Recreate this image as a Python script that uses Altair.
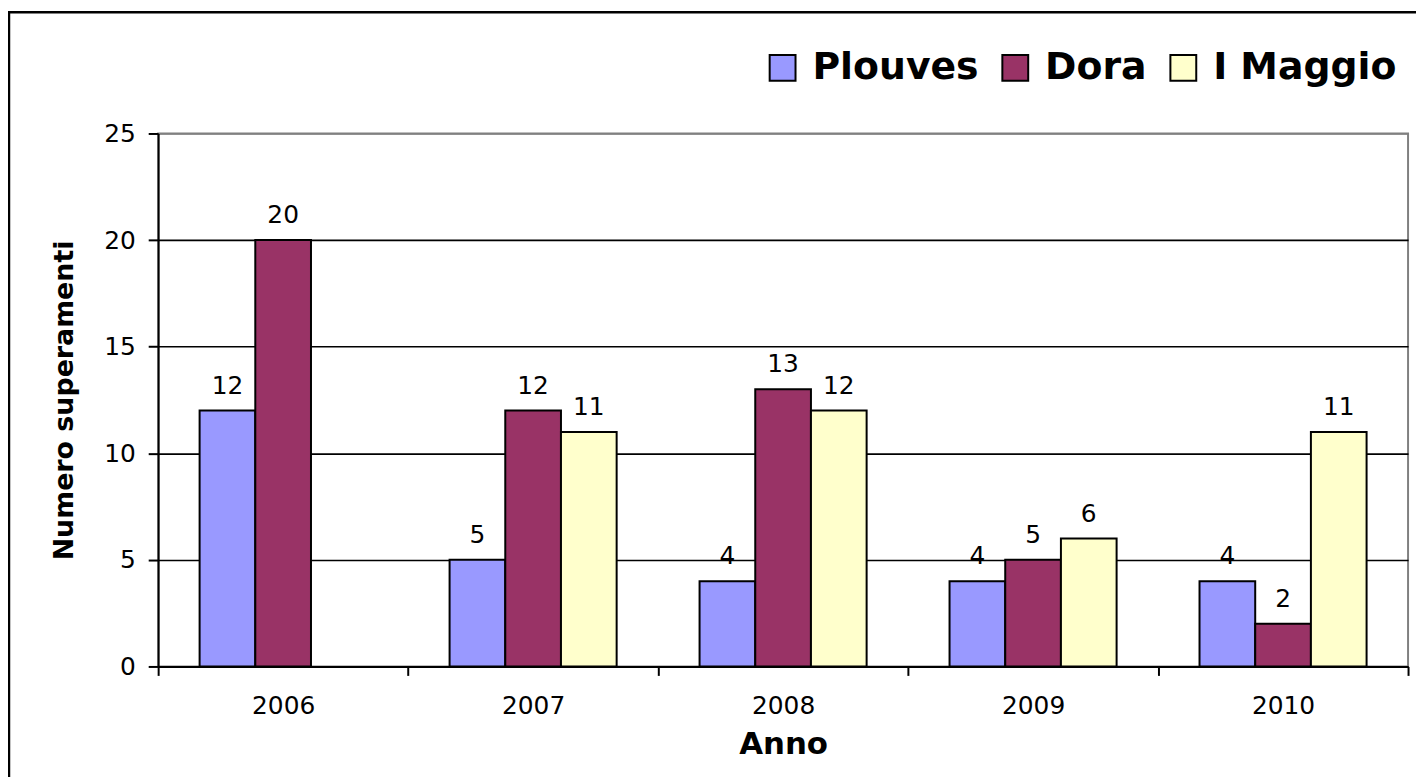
import altair as alt
import pandas as pd

years = ["2006", "2007", "2008", "2009", "2010"]
series = ["Plouves", "Dora", "I Maggio"]
plouves = [12, 5, 4, 4, 4]
dora = [20, 12, 13, 5, 2]
maggio = [None, 11, 12, 6, 11]
colors = ["#9999FF", "#993366", "#FFFFCC"]
y_ticks = [0, 5, 10, 15, 20, 25]

rows = []
for name, vals in zip(series, [plouves, dora, maggio]):
    for yr, v in zip(years, vals):
        rows.append({"Anno": yr, "Serie": name, "Valore": v})
df = pd.DataFrame(rows)

FONT = "DejaVu Sans"

x_enc = alt.X(
    "Anno:N",
    sort=years,
    scale=alt.Scale(paddingInner=0, paddingOuter=0),
    axis=alt.Axis(
        title="Anno",
        labelAngle=0,
        tickBand="extent",
        tickSize=9,
        tickWidth=2,
        tickColor="black",
        domainColor="black",
        domainWidth=2,
        labelFont=FONT,
        labelFontSize=25,
        labelColor="black",
        labelPadding=18,
        titleFont=FONT,
        titleFontSize=31,
        titleFontWeight="bold",
        titleColor="black",
        titlePadding=12,
    ),
)
xoff = alt.XOffset(
    "Serie:N",
    sort=series,
    scale=alt.Scale(domain=series, paddingInner=0, paddingOuter=0.7445),
)
y_enc = alt.Y(
    "Valore:Q",
    scale=alt.Scale(domain=[0, 25], nice=False),
    axis=alt.Axis(
        title="Numero superamenti",
        values=y_ticks,
        tickSize=10,
        tickWidth=2,
        tickColor="black",
        domainColor="black",
        domainWidth=2,
        grid=True,
        gridColor=alt.condition(alt.datum.value == 25, alt.value("#808080"), alt.value("black")),
        gridWidth=1.6,
        labelFont=FONT,
        labelFontSize=25,
        labelColor="black",
        labelPadding=13,
        titleFont=FONT,
        titleFontSize=27,
        titleFontWeight="bold",
        titleColor="black",
        titleX=-94,
        titleY=268,
        titleAngle=-90,
        titleAlign="center",
        titleBaseline="middle",
    ),
)
color_enc = alt.Color(
    "Serie:N",
    sort=series,
    scale=alt.Scale(domain=series, range=colors),
    legend=alt.Legend(
        title=None,
        orient="none",
        direction="horizontal",
        legendX=609,
        legendY=-85,
        symbolType="square",
        symbolSize=676,
        symbolStrokeColor="black",
        symbolStrokeWidth=2,
        symbolOpacity=1,
        labelFont=FONT,
        labelFontSize=38,
        labelFontWeight="bold",
        labelColor="black",
        labelOffset=11,
        columnPadding=17,
        labelLimit=400,
    ),
)

base = alt.Chart(df)

bars = base.mark_bar(stroke="black", strokeWidth=2, opacity=1).encode(
    x=x_enc, xOffset=xoff, y=y_enc, color=color_enc
)

labels = base.mark_text(
    font=FONT, fontSize=25, color="black", baseline="alphabetic", dy=-17
).encode(
    x=alt.X("Anno:N", sort=years),
    xOffset=alt.XOffset("Serie:N", sort=series),
    y="Valore:Q",
    text=alt.Text("Valore:Q", format="d"),
)

frame = alt.Chart(pd.DataFrame({"k": [0]})).mark_rect(
    fill=None, stroke="black", strokeWidth=2.5
).encode(
    x=alt.value(-150), x2=alt.value(1275), y=alt.value(-122), y2=alt.value(660)
)

chart = (
    alt.layer(bars, labels, frame)
    .properties(
        width=1257,
        height=536,
        padding={"left": 151, "top": 124, "right": 8, "bottom": 109},
        autosize=alt.AutoSizeParams(type="none"),
        background="white",
    )
    .configure_view(stroke="#808080", strokeWidth=2)
)

chart.save("out.html", embed_options={"renderer": "svg", "actions": False})
